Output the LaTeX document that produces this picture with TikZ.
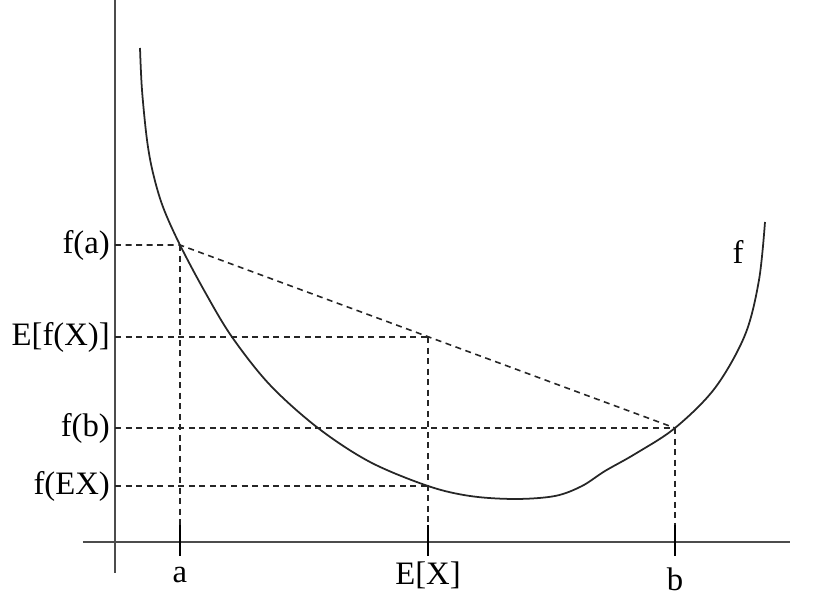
\documentclass[tikz,border=0pt]{standalone}
\usepackage{fontspec}
\setmainfont{Liberation Serif}
\usetikzlibrary{positioning}

\begin{document}
\begin{tikzpicture}[
  x=0.01cm, y=-0.01cm,
  font=\fontsize{9.3}{11}\selectfont,
  axis/.style={line width=0.6pt, draw=black!70},
  guide/.style={dashed, dash pattern=on 1.7pt off 1.3pt, line width=0.45pt, draw=black!85},
  curve/.style={line width=0.5pt, draw=black!85},
  tick/.style={line width=0.5pt},
  lbl/.style={inner sep=1pt}
]
\useasboundingbox (0,0) rectangle (820,612);

% axes
\coordinate (ytop) at (115,0);
\coordinate (ybot) at (115,573);
\coordinate (xl) at (83,542);
\coordinate (xr) at (790,542);
\draw[axis] (ytop) -- (ybot);
\draw[axis] (xl) -- (xr);

% points on the curve and the chord
\coordinate (pa) at (180,245);
\coordinate (pm) at (428,337);
\coordinate (pb) at (675,428);
\coordinate (pe) at (428,486);

% feet on the axes
\coordinate (ya) at (115,245);
\coordinate (ym) at (115,337);
\coordinate (yb) at (115,428);
\coordinate (ye) at (115,486);
\coordinate (ta) at (180,525);
\coordinate (tm) at (428,525);
\coordinate (tb) at (675,525);

% the function
\draw[curve] plot[smooth, tension=0.55] coordinates {
  (140,48) (142,90) (147,140) (153,173) (163,207) (180,245) (205,292)
  (232,337) (270,385) (318,428) (370,462) (428,486) (470,496) (515,499)
  (555,496) (582,486) (605,471) (635,454) (675,428) (715,388)
  (745,335) (759,280) (765,222)};
\node[lbl] (flab) at (738,252) {f};

% chord and guides
\draw[guide] (ya) -- (pa) -- (pb);
\draw[guide] (ym) -- (pm);
\draw[guide] (yb) -- (pb);
\draw[guide] (ye) -- (pe);
\draw[guide] (pa) -- (ta);
\draw[guide] (pm) -- (tm);
\draw[guide] (pb) -- (tb);

% ticks
\foreach \t/\x in {ta/180, tm/428, tb/675}
  \draw[tick] (\t) -- (\x,556);

% labels
\node[lbl, anchor=east] (la) at (114,245) {f(a)};
\node[lbl, anchor=east] (lm) at (114,337) {E[f(X)]};
\node[lbl, anchor=east] (lb) at (114,428) {f(b)};
\node[lbl, anchor=east] (le) at (114,486) {f(EX)};
\node[lbl] (xa) at (180,575) {a};
\node[lbl] (xm) at (428,575) {E[X]};
\node[lbl] (xb) at (675,579) {b};
\end{tikzpicture}
\end{document}
